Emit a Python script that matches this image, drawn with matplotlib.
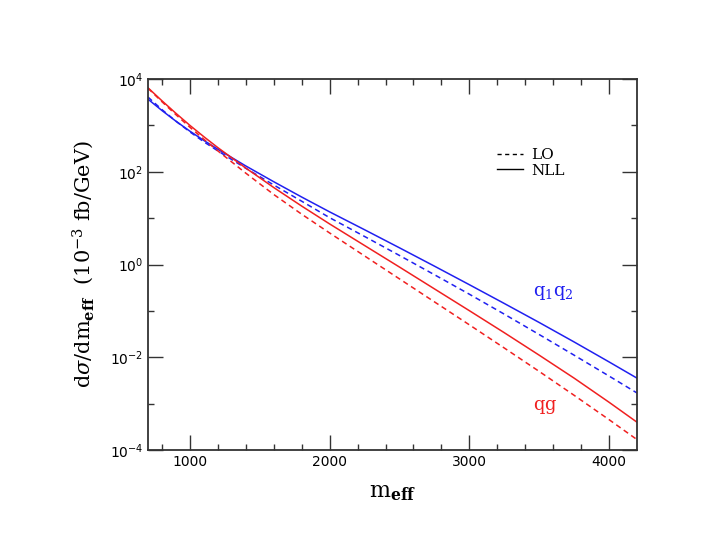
import numpy as np
import matplotlib
matplotlib.use("Agg")
import matplotlib.pyplot as plt
from matplotlib.lines import Line2D
from matplotlib.ticker import FixedLocator, NullFormatter, LogFormatterMathtext

plt.rcParams['mathtext.fontset'] = 'dejavuserif'

# m_eff grid (GeV) and log10 of dsigma/dm_eff (1e-3 fb/GeV)
m_eff = [700, 800, 900, 1000, 1100, 1200, 1400, 1600, 1800, 2000, 2250,
         2500, 2750, 3000, 3250, 3500, 3750, 4000, 4200]

q1q2_nll = [3.565, 3.32, 3.09, 2.875, 2.675, 2.485, 2.125, 1.785, 1.455, 1.135, 0.75,
            0.36, -0.035, -0.435, -0.84, -1.25, -1.67, -2.10, -2.45]
q1q2_lo = [3.61, 3.34, 3.09, 2.86, 2.645, 2.45, 2.075, 1.715, 1.365, 1.01, 0.605,
           0.195, -0.22, -0.64, -1.07, -1.51, -1.955, -2.405, -2.77]
qg_nll = [3.81, 3.53, 3.26, 3.00, 2.755, 2.52, 2.08, 1.66, 1.26, 0.875, 0.41,
          -0.055, -0.525, -0.995, -1.47, -1.955, -2.45, -2.97, -3.40]
qg_lo = [3.80, 3.51, 3.23, 2.96, 2.70, 2.45, 1.97, 1.51, 1.085, 0.68, 0.185,
         -0.31, -0.805, -1.30, -1.80, -2.305, -2.82, -3.345, -3.775]

blue = '#2020f0'
red = '#f02020'
dash = (3.5, 2.5)

fig = plt.figure(figsize=(7.17, 5.54), dpi=100)
ax = fig.add_axes([0.2064, 0.1877, 0.682, 0.6697])

ax.plot(m_eff, 10**np.array(q1q2_nll), color=blue, lw=1.1)
ax.plot(m_eff, 10**np.array(q1q2_lo), color=blue, lw=1.1, dashes=dash)
ax.plot(m_eff, 10**np.array(qg_nll), color=red, lw=1.1)
ax.plot(m_eff, 10**np.array(qg_lo), color=red, lw=1.1, dashes=dash)

ax.set_yscale('log')
ax.set_xlim(700, 4200)
ax.set_ylim(1e-4, 1e4)

ax.xaxis.set_major_locator(FixedLocator([1000, 2000, 3000, 4000]))
ax.xaxis.set_minor_locator(FixedLocator(np.arange(800, 4200, 200)))
ax.yaxis.set_major_locator(FixedLocator([1e-4, 1e-2, 1e0, 1e2, 1e4]))
ax.yaxis.set_major_formatter(LogFormatterMathtext())
ax.yaxis.set_minor_locator(FixedLocator([1e-3, 1e-1, 1e1, 1e3]))
ax.yaxis.set_minor_formatter(NullFormatter())

ax.tick_params(which='both', direction='in', top=True, right=True, width=1.0,
               color='#333333', labelsize=10)
ax.tick_params(which='major', length=11)
ax.tick_params(which='minor', length=4.5)
for s in ax.spines.values():
    s.set_linewidth(1.3)
    s.set_color('#333333')

ax.set_xlabel(r'$\mathrm{m}_{\mathbf{eff}}$', fontsize=16, labelpad=10)
ax.set_ylabel(r'$\mathrm{d}\sigma/\mathrm{dm}_{\mathbf{eff}}\ \ (10^{-3}\ \mathrm{fb/GeV})$',
              fontsize=15, labelpad=10)

ax.text(3457, 10**-0.61, r'$\mathrm{q}_1\mathrm{q}_2$', color=blue, fontsize=13,
        va='center')
ax.text(3457, 10**-3.07, r'$\mathrm{qg}$', color=red, fontsize=13, va='center')

handles = [Line2D([], [], color='black', lw=1.0, dashes=(3, 2.5)),
           Line2D([], [], color='black', lw=1.0)]
ax.legend(handles, ['LO', 'NLL'], loc='upper left', bbox_to_anchor=(0.713, 0.814),
          frameon=False, handlelength=1.7, handletextpad=0.55, labelspacing=0.1,
          borderpad=0, borderaxespad=0,
          prop={'family': 'DejaVu Serif', 'size': 11})

fig.savefig('out.png', dpi=100)
